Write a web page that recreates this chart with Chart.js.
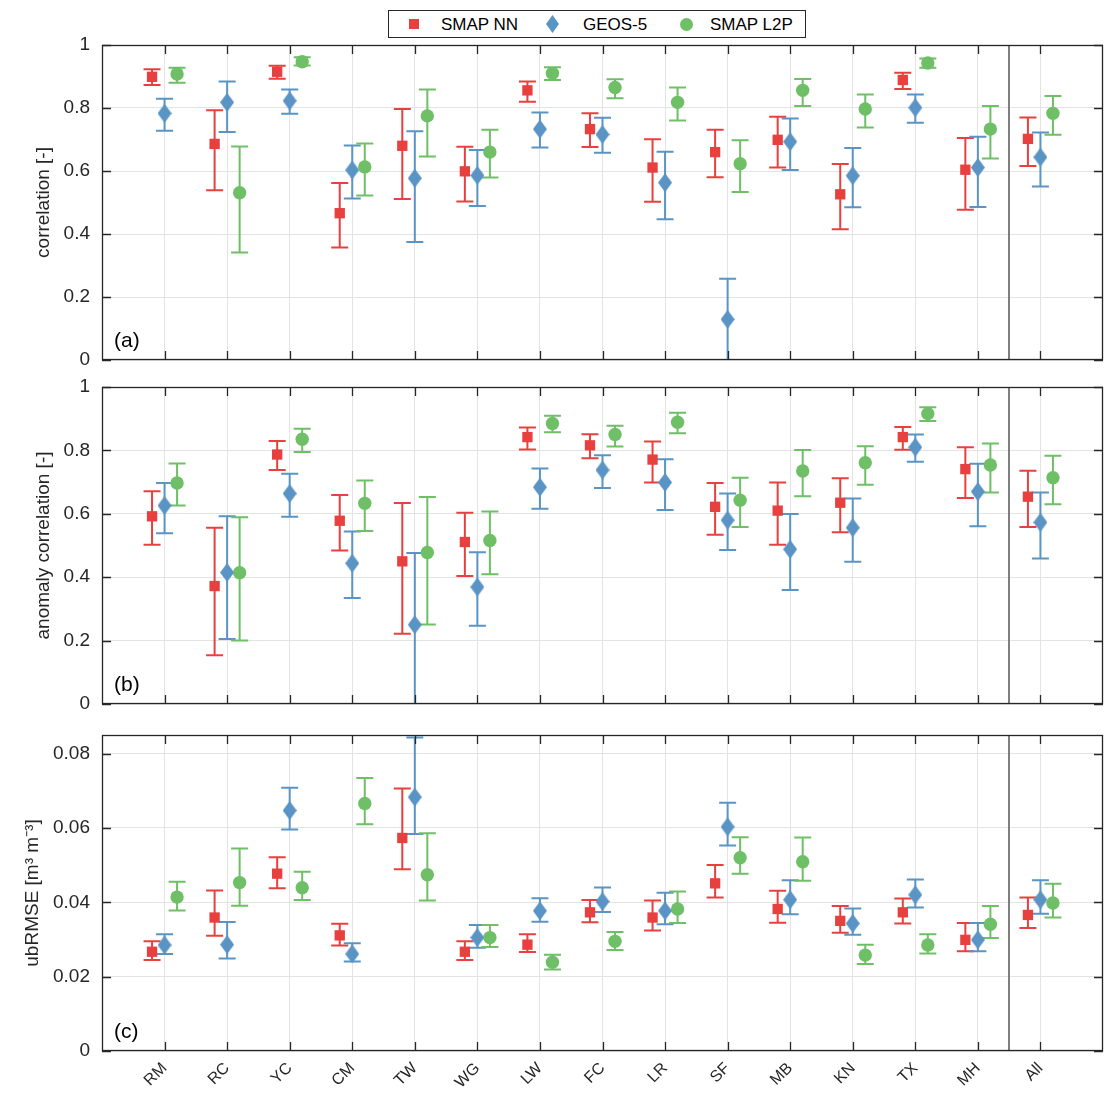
<!DOCTYPE html>
<html>
<head>
<meta charset="utf-8">
<script src="https://cdn.jsdelivr.net/npm/chart.js@4.4.1/dist/chart.umd.min.js"></script>
<style>
  body { margin: 0; background: #fff; font-family: "Liberation Sans", Arial, sans-serif; }
  #wrap { position: relative; width: 1105px; height: 1094px; }
  #wrap canvas { position: absolute; left: 0; }
  #legend { position: absolute; left: 388px; top: 10px; width: 416px; height: 26px; border: 1px solid #262626; background: #fff; font-size: 17px; color: #000; }
  #legend span { position: absolute; }
  #legend .txt { top: 4px; }
</style>
</head>
<body>
<div id="wrap">
  <canvas id="chartA" width="1105" height="370" style="top:0px"></canvas>
  <canvas id="chartB" width="1105" height="340" style="top:370px"></canvas>
  <canvas id="chartC" width="1105" height="384" style="top:710px"></canvas>
  <div id="legend">
    <span style="left:20px;top:8px;width:10px;height:10px;background:#e8403f"></span>
    <span class="txt" style="left:52px">SMAP NN</span>
    <span style="left:157px;top:4px;width:13px;height:18px;background:#5a94c5;clip-path:polygon(50% 0,100% 50%,50% 100%,0 50%)"></span>
    <span class="txt" style="left:194px">GEOS-5</span>
    <span style="left:291px;top:7px;width:13px;height:13px;border-radius:50%;background:#6ebf66"></span>
    <span class="txt" style="left:321px">SMAP L2P</span>
  </div>
</div>
<script>
const sites = ['RM', 'RC', 'YC', 'CM', 'TW', 'WG', 'LW', 'FC', 'LR', 'SF', 'MB', 'KN', 'TX', 'MH', 'All']

// (a) correlation
const nnCorr     = [0.899, 0.686, 0.915, 0.466, 0.680, 0.599, 0.856, 0.733, 0.611, 0.660, 0.699, 0.526, 0.889, 0.604, 0.702]
const nnCorrLo   = [0.873, 0.539, 0.893, 0.357, 0.511, 0.503, 0.820, 0.676, 0.502, 0.580, 0.611, 0.415, 0.860, 0.477, 0.616]
const nnCorrHi   = [0.923, 0.793, 0.934, 0.562, 0.797, 0.677, 0.884, 0.783, 0.701, 0.731, 0.772, 0.622, 0.912, 0.705, 0.770]
const geosCorr   = [0.783, 0.818, 0.823, 0.603, 0.577, 0.586, 0.733, 0.716, 0.563, 0.129, 0.693, 0.585, 0.801, 0.611, 0.644]
const geosCorrLo = [0.728, 0.724, 0.782, 0.513, 0.375, 0.489, 0.675, 0.658, 0.447, -0.01, 0.603, 0.485, 0.753, 0.486, 0.551]
const geosCorrHi = [0.829, 0.884, 0.859, 0.681, 0.726, 0.667, 0.786, 0.769, 0.661, 0.258, 0.767, 0.673, 0.843, 0.709, 0.722]
const l2pCorr    = [0.908, 0.531, 0.947, 0.613, 0.775, 0.660, 0.910, 0.865, 0.818, 0.623, 0.856, 0.797, 0.943, 0.733, 0.783]
const l2pCorrLo  = [0.880, 0.341, 0.935, 0.522, 0.646, 0.579, 0.889, 0.831, 0.760, 0.533, 0.806, 0.738, 0.928, 0.640, 0.715]
const l2pCorrHi  = [0.928, 0.678, 0.961, 0.687, 0.859, 0.731, 0.929, 0.891, 0.865, 0.698, 0.892, 0.843, 0.957, 0.806, 0.838]

// (b) anomaly correlation
const nnAnom     = [0.592, 0.372, 0.787, 0.578, 0.450, 0.511, 0.842, 0.816, 0.771, 0.622, 0.610, 0.635, 0.842, 0.741, 0.654]
const nnAnomLo   = [0.502, 0.154, 0.738, 0.484, 0.222, 0.404, 0.803, 0.775, 0.699, 0.534, 0.502, 0.542, 0.802, 0.650, 0.558]
const nnAnomHi   = [0.671, 0.556, 0.830, 0.659, 0.634, 0.603, 0.872, 0.851, 0.828, 0.697, 0.699, 0.712, 0.874, 0.810, 0.736]
const geosAnom   = [0.626, 0.415, 0.664, 0.444, 0.250, 0.369, 0.684, 0.738, 0.699, 0.580, 0.488, 0.556, 0.810, 0.670, 0.573]
const geosAnomLo = [0.539, 0.205, 0.591, 0.334, -0.01, 0.247, 0.616, 0.681, 0.612, 0.486, 0.360, 0.449, 0.764, 0.561, 0.459]
const geosAnomHi = [0.697, 0.592, 0.726, 0.544, 0.476, 0.479, 0.743, 0.785, 0.772, 0.664, 0.599, 0.648, 0.850, 0.758, 0.667]
const l2pAnom    = [0.697, 0.414, 0.835, 0.633, 0.478, 0.516, 0.885, 0.850, 0.889, 0.643, 0.735, 0.761, 0.916, 0.754, 0.714]
const l2pAnomLo  = [0.626, 0.200, 0.795, 0.546, 0.251, 0.409, 0.857, 0.812, 0.854, 0.558, 0.655, 0.692, 0.893, 0.667, 0.630]
const l2pAnomHi  = [0.759, 0.589, 0.868, 0.705, 0.653, 0.607, 0.909, 0.878, 0.919, 0.714, 0.801, 0.813, 0.936, 0.822, 0.783]

// (c) ubRMSE
const nnRmse     = [0.0267, 0.0359, 0.0477, 0.0311, 0.0573, 0.0267, 0.0286, 0.0373, 0.0359, 0.0451, 0.0382, 0.0350, 0.0373, 0.0299, 0.0366]
const nnRmseLo   = [0.0245, 0.0310, 0.0438, 0.0284, 0.0489, 0.0245, 0.0266, 0.0346, 0.0324, 0.0413, 0.0345, 0.0318, 0.0343, 0.0268, 0.0331]
const nnRmseHi   = [0.0295, 0.0432, 0.0521, 0.0342, 0.0706, 0.0295, 0.0314, 0.0406, 0.0405, 0.0500, 0.0431, 0.0390, 0.0410, 0.0344, 0.0413]
const geosRmse   = [0.0285, 0.0286, 0.0647, 0.0261, 0.0683, 0.0305, 0.0377, 0.0402, 0.0377, 0.0603, 0.0407, 0.0343, 0.0420, 0.0299, 0.0407]
const geosRmseLo = [0.0261, 0.0249, 0.0596, 0.0241, 0.0584, 0.0278, 0.0348, 0.0374, 0.0341, 0.0553, 0.0368, 0.0313, 0.0386, 0.0268, 0.0369]
const geosRmseHi = [0.0314, 0.0347, 0.0708, 0.0290, 0.0843, 0.0339, 0.0411, 0.0440, 0.0426, 0.0668, 0.0459, 0.0383, 0.0461, 0.0344, 0.0459]
const l2pRmse    = [0.0414, 0.0453, 0.0439, 0.0666, 0.0474, 0.0305, 0.0239, 0.0295, 0.0382, 0.0520, 0.0509, 0.0258, 0.0285, 0.0341, 0.0398]
const l2pRmseLo  = [0.0378, 0.0391, 0.0406, 0.0610, 0.0405, 0.0280, 0.0219, 0.0272, 0.0344, 0.0477, 0.0458, 0.0234, 0.0262, 0.0304, 0.0359]
const l2pRmseHi  = [0.0455, 0.0545, 0.0482, 0.0734, 0.0586, 0.0339, 0.0259, 0.0320, 0.0429, 0.0575, 0.0574, 0.0286, 0.0314, 0.0390, 0.0450]

const corrTicks = [0, 0.2, 0.4, 0.6, 0.8, 1]
const rmseTicks = [0, 0.02, 0.04, 0.06, 0.08]

const red = '#e8403f', blue = '#5a94c5', green = '#6ebf66'
const font = '"Liberation Sans", Arial, sans-serif'

// taller-than-wide diamond like matlab
const diamond = document.createElement('canvas')
diamond.width = 14
diamond.height = 19
let dc = diamond.getContext('2d')
dc.fillStyle = blue
dc.beginPath()
dc.moveTo(7, 0); dc.lineTo(14, 9.5); dc.lineTo(7, 19); dc.lineTo(0, 9.5)
dc.closePath()
dc.fill()

const errorBars = {
  id: 'errorBars',
  beforeDatasetsDraw(chart) {
    const ctx = chart.ctx, ys = chart.scales.y, a = chart.chartArea
    ctx.save()
    ctx.beginPath()
    ctx.rect(a.left, a.top, a.right - a.left, a.bottom - a.top)
    ctx.clip()
    chart.data.datasets.forEach((ds, i) => {
      const meta = chart.getDatasetMeta(i)
      ctx.strokeStyle = ds.barColor
      ctx.lineWidth = 2
      meta.data.forEach((pt, j) => {
        const lo = ys.getPixelForValue(ds.lo[j])
        const hi = ys.getPixelForValue(ds.hi[j])
        ctx.beginPath()
        ctx.moveTo(pt.x, lo); ctx.lineTo(pt.x, hi)
        ctx.moveTo(pt.x - 8.5, lo); ctx.lineTo(pt.x + 8.5, lo)
        ctx.moveTo(pt.x - 8.5, hi); ctx.lineTo(pt.x + 8.5, hi)
        ctx.stroke()
      })
    })
    ctx.restore()
  }
}

const frame = {
  id: 'frame',
  afterDatasetsDraw(chart, args, opts) {
    const ctx = chart.ctx, a = chart.chartArea
    const xs = chart.scales.x, ys = chart.scales.y
    ctx.save()
    // separator between single sites and All
    const sx = Math.round(xs.getPixelForValue(14.5))
    ctx.strokeStyle = '#7f7f7f'
    ctx.lineWidth = 2
    ctx.beginPath(); ctx.moveTo(sx, a.top); ctx.lineTo(sx, a.bottom); ctx.stroke()
    // box and inward ticks
    ctx.strokeStyle = '#262626'
    ctx.lineWidth = 1.3
    ctx.strokeRect(a.left + 0.5, a.top + 0.5, a.right - a.left - 1, a.bottom - a.top - 1)
    ctx.beginPath()
    xs.ticks.forEach(t => {
      const px = Math.round(xs.getPixelForValue(t.value)) + 0.5
      ctx.moveTo(px, a.bottom); ctx.lineTo(px, a.bottom - 9)
      ctx.moveTo(px, a.top); ctx.lineTo(px, a.top + 9)
    })
    ys.ticks.forEach(t => {
      const py = Math.round(ys.getPixelForValue(t.value)) + 0.5
      ctx.moveTo(a.left, py); ctx.lineTo(a.left + 9, py)
      ctx.moveTo(a.right, py); ctx.lineTo(a.right - 9, py)
    })
    ctx.stroke()
    ctx.fillStyle = '#000'
    ctx.font = '21px ' + font
    ctx.textBaseline = 'alphabetic'
    ctx.fillText(opts.label, a.left + 12, a.bottom - 13)
    ctx.restore()
  }
}

function makeSet(label, vals, lo, hi, off, color, style, radius) {
  return {
    label: label,
    data: vals.map((v, i) => ({ x: i + 1 + off, y: v })),
    lo: lo,
    hi: hi,
    barColor: color,
    backgroundColor: color,
    borderColor: color,
    borderWidth: 0,
    pointStyle: style,
    pointRadius: radius,
    pointHoverRadius: radius
  }
}

function makePanel(id, o) {
  return new Chart(document.getElementById(id), {
    type: 'scatter',
    data: {
      datasets: [
        makeSet('SMAP NN', o.nn[0], o.nn[1], o.nn[2], -0.2, red, 'rect', 7.3),
        makeSet('GEOS-5', o.geos[0], o.geos[1], o.geos[2], 0, blue, diamond, 9),
        makeSet('SMAP L2P', o.l2p[0], o.l2p[1], o.l2p[2], 0.2, green, 'circle', 6.7)
      ]
    },
    options: {
      responsive: false,
      animation: false,
      layout: { autoPadding: false, padding: { top: o.top, right: 2, left: 0, bottom: 0 } },
      plugins: {
        legend: { display: false },
        tooltip: { enabled: false },
        frame: { label: o.label }
      },
      scales: {
        x: {
          type: 'linear',
          min: 0,
          max: 16,
          afterBuildTicks: s => { s.ticks = sites.map((n, i) => ({ value: i + 1 })) },
          afterFit: s => {
            s.height = o.xHeight
            s.paddingLeft = 0
            s.paddingRight = 0
          },
          grid: { color: '#e3e3e3', lineWidth: 1, drawTicks: false },
          border: { display: false },
          ticks: {
            display: o.showX,
            autoSkip: false,
            minRotation: 45,
            maxRotation: 45,
            padding: 8,
            color: '#262626',
            font: { family: font, size: 16 },
            callback: (v, i) => sites[i]
          }
        },
        y: {
          min: 0,
          max: o.max,
          afterBuildTicks: s => { s.ticks = o.ticks.map(v => ({ value: v })) },
          afterFit: s => {
            s.width = 102
            s.paddingTop = 0
            s.paddingBottom = 0
          },
          grid: { color: '#e3e3e3', lineWidth: 1, drawTicks: false },
          border: { display: false },
          ticks: {
            padding: 12,
            color: '#262626',
            font: { family: font, size: 19 },
            callback: v => String(v)
          },
          title: {
            display: true,
            text: o.title,
            color: '#262626',
            font: { family: font, size: 19 },
            padding: { top: o.titlePad, bottom: 0 }
          }
        }
      }
    },
    plugins: [errorBars, frame]
  })
}

makePanel('chartA', {
  label: '(a)', title: 'correlation [-]', max: 1, ticks: corrTicks,
  top: 45, xHeight: 10, showX: false, titlePad: 32,
  nn: [nnCorr, nnCorrLo, nnCorrHi],
  geos: [geosCorr, geosCorrLo, geosCorrHi],
  l2p: [l2pCorr, l2pCorrLo, l2pCorrHi]
})

makePanel('chartB', {
  label: '(b)', title: 'anomaly correlation [-]', max: 1, ticks: corrTicks,
  top: 17, xHeight: 6, showX: false, titlePad: 32,
  nn: [nnAnom, nnAnomLo, nnAnomHi],
  geos: [geosAnom, geosAnomLo, geosAnomHi],
  l2p: [l2pAnom, l2pAnomLo, l2pAnomHi]
})

makePanel('chartC', {
  label: '(c)', title: 'ubRMSE [m³ m⁻³]', max: 0.085, ticks: rmseTicks,
  top: 25, xHeight: 43, showX: true, titlePad: 21,
  nn: [nnRmse, nnRmseLo, nnRmseHi],
  geos: [geosRmse, geosRmseLo, geosRmseHi],
  l2p: [l2pRmse, l2pRmseLo, l2pRmseHi]
})
</script>
</body>
</html>
